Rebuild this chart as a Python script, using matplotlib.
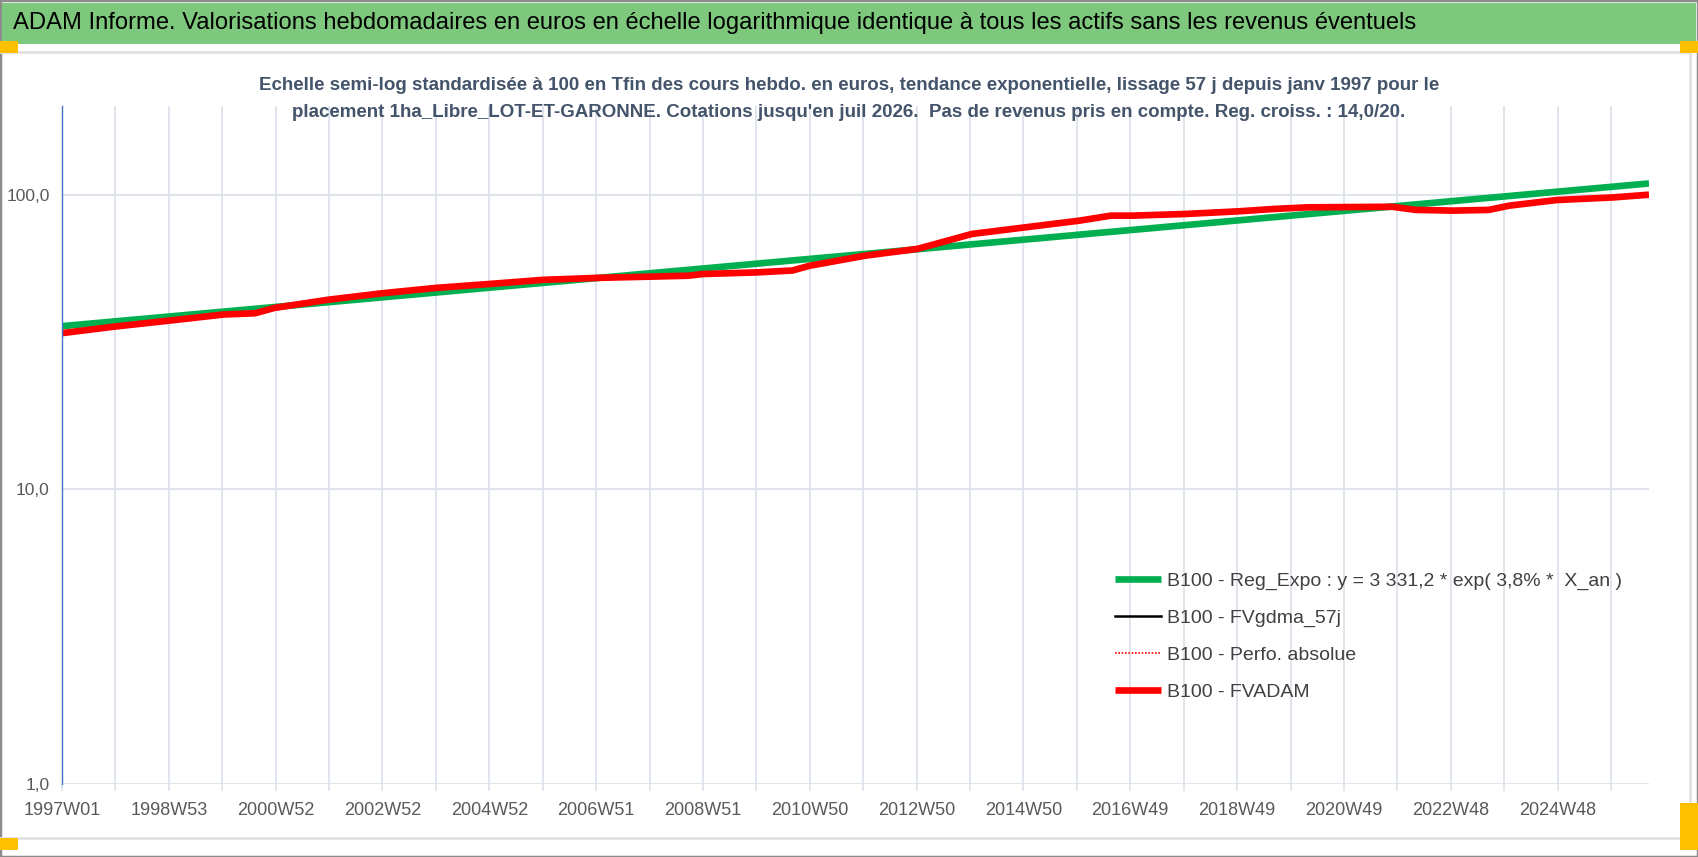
import matplotlib
matplotlib.use("Agg")
import matplotlib.pyplot as plt
import matplotlib.patches as patches
from matplotlib.ticker import FixedLocator, NullLocator

plt.rcParams['font.family'] = ['Liberation Sans Narrow', 'Liberation Sans', 'DejaVu Sans']

#Data (x = week index since 1997W01)
green_idx = [0, 1545]
green_val = [35.8, 109.2]

red_idx = [0, 52, 105, 157, 188, 207, 259, 312, 365, 417, 468, 521, 572, 610, 624, 677,
           711, 728, 782, 833, 886, 938, 990, 1021, 1042, 1093, 1145, 1181, 1213, 1295,
           1318, 1354, 1389, 1409, 1455, 1510, 1545]
red_val = [33.9, 35.7, 37.4, 39.2, 39.6, 41.3, 44.0, 46.3, 48.3, 49.8, 51.4, 52.2, 52.7, 53.1,
           53.8, 54.5, 55.3, 57.4, 62.1, 65.5, 73.6, 77.5, 81.6, 84.9, 84.9, 86.0, 87.8, 89.5,
           90.6, 91.0, 88.8, 88.3, 88.8, 91.8, 95.9, 97.9, 100.0]

tick_labels = ["1997W01", "1998W53", "2000W52", "2002W52", "2004W52", "2006W51", "2008W51",
               "2010W50", "2012W50", "2014W50", "2016W49", "2018W49", "2020W49", "2022W48",
               "2024W48"]
y_ticks = [1, 10, 100]
y_labels = ["1,0", "10,0", "100,0"]

legend_labels = ["B100 - Reg_Expo : y = 3 331,2 * exp( 3,8% *  X_an )",
                 "B100 - FVgdma_57j",
                 "B100 - Perfo. absolue",
                 "B100 - FVADAM"]

title = ("ADAM Informe. Valorisations hebdomadaires en euros en échelle logarithmique "
         "identique à tous les actifs sans les revenus éventuels")
subtitle = ("Echelle semi-log standardisée à 100 en Tfin des cours hebdo. en euros, tendance exponentielle, lissage 57 j depuis janv 1997 pour le\n"
            "placement 1ha_Libre_LOT-ET-GARONNE. Cotations jusqu'en juil 2026.  Pas de revenus pris en compte. Reg. croiss. : 14,0/20.")

W, H = 1698, 857
fig = plt.figure(figsize=(W / 100, H / 100), dpi=100)
fig.patch.set_facecolor("white")

def px(x, y):
    return x / W, 1 - y / H

#Frame, title bar and handles
fig.add_artist(patches.Rectangle((0, 0), 1, 1, transform=fig.transFigure,
                                 facecolor="none", edgecolor="#8C8C8C", lw=2.5, zorder=-5))
x0, y0 = px(2, 44)
fig.add_artist(patches.Rectangle((x0, y0), 1 - 4 / W, 41 / H, transform=fig.transFigure,
                                 facecolor="#7DC87D", edgecolor="none"))
for (xa, xb, ya, yb) in [(0, 1690, 52, 52), (0, 1690, 838, 838), (1690, 1690, 52, 838)]:
    fig.add_artist(plt.Line2D([xa / W, xb / W], [1 - ya / H, 1 - yb / H], transform=fig.transFigure,
                              color="#E2E2E2", lw=2, zorder=-4))
for (hx, hy, hw, hh) in [(0, 41, 18, 12), (1680, 41, 18, 12), (0, 838, 18, 12), (1680, 803, 18, 47)]:
    bx, by = px(hx, hy + hh)
    fig.add_artist(patches.Rectangle((bx, by), hw / W, hh / H, transform=fig.transFigure,
                                     facecolor="#FFC000", edgecolor="none"))

fig.text(13 / W, 1 - 23 / H, title, fontsize=17.1, color="black", ha="left", va="center")
fig.text(849 / W, 1 - 99 / H, subtitle, fontsize=13.5, color="#44546A", fontweight="bold",
         ha="center", va="center", linespacing=1.8)

#Plot area
left, bottom = px(62, 784)
right, top = px(1649, 106)
ax = fig.add_axes([left, bottom, right - left, top - bottom])
ax.set_facecolor("none")

ax.plot(green_idx, green_val, color="#00B050", lw=4.8, solid_capstyle="butt", label=legend_labels[0], zorder=3)
ax.plot([], [], color="black", lw=1.8, label=legend_labels[1])
ax.plot([], [], color="#FF0000", lw=1.2, ls=(0, (1, 1)), label=legend_labels[2])
ax.plot(red_idx, red_val, color="#FF0000", lw=4.8, solid_capstyle="butt", label=legend_labels[3], zorder=4)

ax.set_yscale("log")
ax.set_ylim(1, 200)
ax.set_xlim(0, 1545)

ax.yaxis.set_major_locator(FixedLocator(y_ticks))
ax.yaxis.set_minor_locator(NullLocator())
ax.set_yticklabels(y_labels)

grid_pos = list(range(0, 1545, 52))
ax.set_xticks(grid_pos)
ax.set_xticklabels([tick_labels[i // 2] if i % 2 == 0 else "" for i in range(len(grid_pos))])

ax.grid(True, axis="both", color="#DDE2EA", lw=1.3)
ax.set_axisbelow(True)
for s in ["top", "right", "bottom"]:
    ax.spines[s].set_visible(False)
ax.spines["left"].set_color("#4472C4")
ax.spines["left"].set_linewidth(1.0)
ax.spines["left"].set_zorder(5)

ax.tick_params(axis="y", length=0, pad=9, labelsize=12.5, labelcolor="#595959")
ax.tick_params(axis="x", length=5, width=1.2, color="#DDE2EA", pad=8, labelsize=13, labelcolor="#595959")

leg = ax.legend(loc="upper left", bbox_to_anchor=(1115 / W, 1 - 572 / H), bbox_transform=fig.transFigure,
                frameon=False, fontsize=14, handlelength=2.35, handletextpad=0.3, labelspacing=1.0,
                borderaxespad=0, borderpad=0)
for t in leg.get_texts():
    t.set_color("#404040")

fig.savefig("out.png", dpi=100)
